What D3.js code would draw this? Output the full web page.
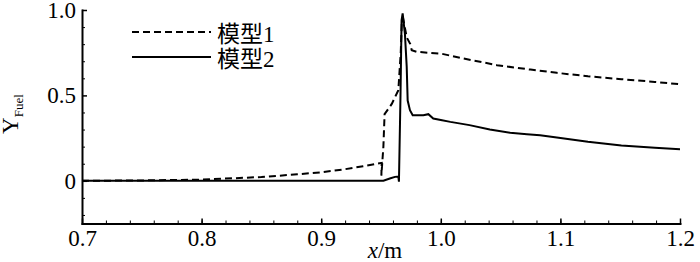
<!DOCTYPE html>
<html>
<head>
<meta charset="utf-8">
<script src="https://cdn.jsdelivr.net/npm/d3@7"></script>
<style>
  body { margin: 0; background: #fff; }
  svg text { font-family: "Liberation Serif", "Times New Roman", "DejaVu Serif", "Noto Sans CJK SC", serif; fill: #000; }
</style>
</head>
<body>
<div id="chart"></div>
<script>
// model 1 (dashed)
const x1 = [0.70, 0.75, 0.80, 0.85, 0.88, 0.90, 0.92, 0.935, 0.9506, 0.9503, 0.9520, 0.9530, 0.9590, 0.9645, 0.9665, 0.9675, 0.9685, 0.9715, 0.9745, 0.9757, 0.980, 0.991, 1.0, 1.019, 1.047, 1.075, 1.097, 1.123, 1.151, 1.179, 1.2];
const y1 = [0.000, 0.002, 0.007, 0.022, 0.038, 0.050, 0.068, 0.085, 0.105, 0.030, 0.200, 0.390, 0.450, 0.530, 0.750, 0.940, 0.950, 0.840, 0.800, 0.764, 0.755, 0.749, 0.745, 0.716, 0.677, 0.651, 0.632, 0.612, 0.595, 0.579, 0.565];
// model 2 (solid)
const x2 = [0.70, 0.952, 0.958, 0.9617, 0.9645, 0.9650, 0.9663, 0.9672, 0.9681, 0.9700, 0.9715, 0.9723, 0.9742, 0.9765, 0.9854, 0.9896, 0.9937, 1.0, 1.008, 1.024, 1.041, 1.058, 1.072, 1.083, 1.097, 1.123, 1.151, 1.179, 1.2];
const y2 = [0.000, 0.000, 0.015, 0.023, 0.025, -0.005, 0.500, 0.940, 0.980, 0.860, 0.667, 0.470, 0.413, 0.384, 0.384, 0.390, 0.365, 0.356, 0.345, 0.326, 0.300, 0.281, 0.273, 0.267, 0.254, 0.228, 0.207, 0.193, 0.184];

const xTicks = [0.7, 0.8, 0.9, 1.0, 1.1, 1.2];
const yTicks = [0, 0.5, 1.0];
const legendNames = ["模型1", "模型2"];

const width = 700, height = 262;
const fs = 23;

const svg = d3.select("#chart").append("svg")
    .attr("width", width)
    .attr("height", height);

const x = d3.scaleLinear().domain([0.7, 1.2]).range([82, 680]);
const y = d3.scaleLinear().domain([-0.25, 1.0]).range([223.5, 10]);

// minor ticks
svg.append("g")
    .attr("transform", "translate(0," + y(-0.25) + ")")
    .call(d3.axisBottom(x).tickValues(d3.range(0.72, 1.2, 0.02)).tickSize(-3).tickFormat(""))
    .call(g => g.select(".domain").remove())
    .call(g => g.selectAll("line").attr("stroke", "#000").attr("stroke-width", 1));

svg.append("g")
    .attr("transform", "translate(82,0)")
    .call(d3.axisLeft(y).tickValues([-0.2, -0.1, 0.1, 0.2, 0.3, 0.4, 0.6, 0.7, 0.8, 0.9]).tickSize(-3).tickFormat(""))
    .call(g => g.select(".domain").remove())
    .call(g => g.selectAll("line").attr("stroke", "#000").attr("stroke-width", 1));

// major axes
const xAxis = svg.append("g")
    .attr("transform", "translate(0," + y(-0.25) + ")")
    .call(d3.axisBottom(x).tickValues(xTicks).tickSizeInner(-5).tickSizeOuter(0).tickFormat(d3.format(".1f")));

const yAxis = svg.append("g")
    .attr("transform", "translate(82,0)")
    .call(d3.axisLeft(y).tickValues(yTicks).tickSizeInner(-5).tickSizeOuter(0)
        .tickFormat(d => d === 0 ? "0" : d3.format(".1f")(d)));

[xAxis, yAxis].forEach(g => {
    g.attr("font-family", null);
    g.select(".domain").attr("stroke", "#000").attr("stroke-width", 2).attr("stroke-linecap", "square");
    g.selectAll(".tick line").attr("stroke", "#000").attr("stroke-width", 1.5);
    g.selectAll(".tick text").attr("font-size", fs);
});
xAxis.selectAll(".tick text").attr("dy", null).attr("y", 22);
yAxis.selectAll(".tick text").attr("x", -6).attr("dy", "0.33em");

// curves
const line = d3.line().x(d => x(d[0])).y(d => y(d[1]));
const data1 = x1.map((v, i) => [v, y1[i]]);
const data2 = x2.map((v, i) => [v, y2[i]]);

svg.append("path")
    .datum(data1)
    .attr("d", line)
    .attr("fill", "none")
    .attr("stroke", "#000")
    .attr("stroke-width", 2)
    .attr("stroke-dasharray", "7,4");

svg.append("path")
    .datum(data2)
    .attr("d", line)
    .attr("fill", "none")
    .attr("stroke", "#000")
    .attr("stroke-width", 2);

// legend
const legend = svg.selectAll(".legend")
    .data(legendNames)
    .enter()
    .append("g")
    .attr("class", "legend")
    .attr("transform", (d, i) => "translate(132," + (32 + i * 25) + ")");

legend.append("line")
    .attr("x1", 0)
    .attr("x2", 79)
    .attr("stroke", "#000")
    .attr("stroke-width", 2)
    .attr("stroke-dasharray", (d, i) => i === 0 ? "7,4" : null);

legend.append("text")
    .attr("x", 85)
    .attr("y", 10)
    .attr("font-size", fs)
    .text(d => d);

// axis titles
const xt = svg.append("text")
    .attr("x", 385)
    .attr("y", 258)
    .attr("text-anchor", "middle")
    .attr("font-size", fs);
xt.append("tspan").attr("font-style", "italic").text("x");
xt.append("tspan").text("/m");

const yt = svg.append("text")
    .attr("transform", "translate(18,114) rotate(-90)")
    .attr("text-anchor", "middle")
    .attr("font-size", fs);
yt.append("tspan").text("Y");
yt.append("tspan").attr("font-size", 13).attr("dy", 5).text("Fuel");
</script>
</body>
</html>
